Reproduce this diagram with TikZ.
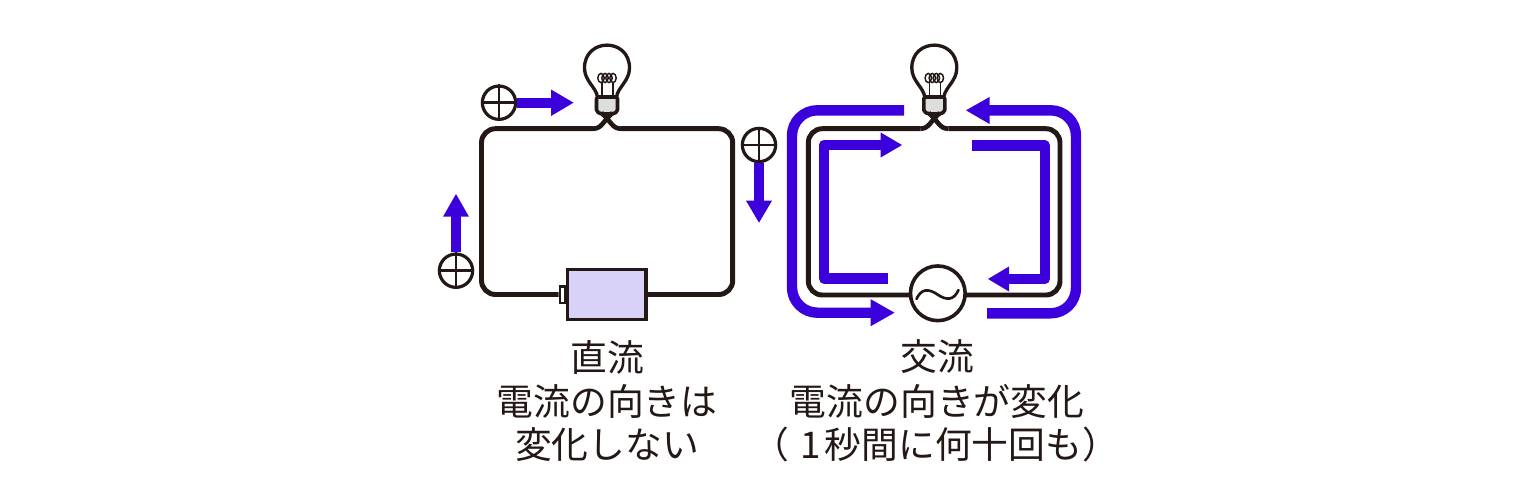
\documentclass[tikz,border=0pt]{standalone}
\usepackage{fontspec}
\setmainfont{Noto Sans CJK JP}
\usetikzlibrary{arrows.meta}
\definecolor{ink}{HTML}{231815}
\definecolor{flow}{HTML}{3C00DC}
\definecolor{cell}{HTML}{D9D2F8}
\definecolor{basegrey}{HTML}{DCDDDD}
\tikzset{
  wire/.style={draw=ink,line width=3.7pt,line cap=butt,rounded corners=10.5pt},
  wirecurve/.style={draw=ink,line width=3.5pt,line cap=butt},
  flowline/.style={draw=flow,line width=7.8pt,line join=round},
  flowhead/.style={fill=flow,draw=none},
  bigbend/.style={rounded corners=19pt},
  charge/.style={circle,draw=ink,line width=2.4pt,fill=white,minimum size=25pt,inner sep=0pt},
  captext/.style={text=ink,font=\fontsize{27.6pt}{33pt}\selectfont,anchor=center,inner sep=0pt},
  glass/.style={draw=ink,line width=2.5pt,line join=round},
  fil/.style={draw=ink,line width=1.1pt},
  x=0.75pt,y=-0.75pt
}
\newcommand{\lamp}[2]{%
  \begin{scope}[shift={(#1,#2)}]
    \draw[glass] (-9.5,52) .. controls (-11,42) and (-22.5,36) .. (-22.5,23)
      .. controls (-22.5,-7.5) and (22.5,-7.5) .. (22.5,23)
      .. controls (22.5,36) and (11,42) .. (9.5,52);
    \draw[fil] (-5,37) -- (-5,52) (6,37) -- (6,52);
    \foreach \cx in {-6,-2,2,6}{\draw[fil] (\cx,33) ellipse [x radius=3.2,y radius=4.6];}
    \draw[glass,fill=basegrey,line width=2.7pt,rounded corners=1.5pt] (-10.5,52) -- (10.5,52) -- (10.5,67) -- (5,69) -- (-5,69) -- (-10.5,67) -- cycle;
    \draw[wirecurve] (-14,83.7) .. controls (-5,83.7) and (-4,76) .. (5.5,68);
    \draw[wirecurve] (14,83.7) .. controls (5,83.7) and (4,76) .. (-5.5,68);
  \end{scope}}
\begin{document}
\begin{tikzpicture}
\useasboundingbox (0,0) rectangle (1536,500);
% left circuit
\coordinate (lb) at (593,128.7);
\coordinate (rb) at (621,128.7);
\node[draw=ink,line width=2.8pt,fill=cell,minimum width=59pt,minimum height=37.5pt,inner sep=0pt] (batt) at (606.8,294.5) {};
\node[draw=ink,line width=2pt,fill=white,minimum width=4pt,minimum height=12.5pt,inner sep=0pt] (nub) at (562.5,294.5) {};
\draw[wire] (lb) -- (481.5,128.7) -- (481.5,294.5) -- (nub.west);
\draw[wire] (rb) -- (732.7,128.7) -- (732.7,294.5) -- (batt.east);
\lamp{607}{45}
% left arrows
\node[charge] (p1) at (499,102.7) {};
\node[charge] (p2) at (759,145) {};
\node[charge] (p3) at (456,270.7) {};
\coordinate (a1) at (552,102.7);
\coordinate (a2) at (759,201.5);
\coordinate (a3) at (456,216);
\draw[flowline] (p1.east) -- (a1);
\draw[flowline] (p2.south) -- (a2);
\draw[flowline] (p3.north) -- (a3);
\fill[flowhead] (573.5,102.7) -- (551,89.5) -- (551,116) -- cycle;
\fill[flowhead] (759,222.7) -- (746,200.7) -- (772,200.7) -- cycle;
\fill[flowhead] (456,194) -- (443,216.7) -- (469,216.7) -- cycle;
\foreach \p in {p1,p2,p3}{
  \draw[draw=ink,line width=2pt] (\p.west) -- (\p.east) (\p.north) -- (\p.south);
}
% right circuit
\coordinate (lb2) at (920.3,128.7);
\coordinate (rb2) at (948.3,128.7);
\coordinate (acj) at (937.8,295);
\draw[wire] (lb2) -- (808.3,128.7) -- (808.3,295) -- (acj);
\draw[wire] (rb2) -- (1060,128.7) -- (1060,295) -- (acj);
\lamp{934.3}{45}
\node[circle,draw=ink,line width=2.7pt,fill=white,minimum size=41pt,inner sep=0pt] (ac) at (937.8,293.3) {};
\draw[draw=ink,line width=2pt,line cap=round] (916.5,299) .. controls (921,289) and (928,288) .. (937.5,294.5) .. controls (947,301) and (954,300) .. (958.5,290);
% outer flows
\coordinate (o1a) at (904,110.3);
\coordinate (o1b) at (792,110.3);
\coordinate (o1c) at (792,312.7);
\coordinate (o1d) at (872,312.7);
\draw[flowline,bigbend] (o1a) -- (o1b) -- (o1c) -- (o1d);
\fill[flowhead] (894.5,312.7) -- (870.7,299.2) -- (870.7,326.2) -- cycle;
\coordinate (o2a) at (987,313.3);
\coordinate (o2b) at (1076,313.3);
\coordinate (o2c) at (1076,110.3);
\coordinate (o2d) at (988,110.3);
\draw[flowline,bigbend] (o2a) -- (o2b) -- (o2c) -- (o2d);
\fill[flowhead] (966,110.3) -- (989.5,97) -- (989.5,124) -- cycle;
% inner flows
\coordinate (i1a) at (887.7,278.3);
\coordinate (i1b) at (824,278.3);
\coordinate (i1c) at (824,145);
\coordinate (i1d) at (882,145);
\draw[flowline] (i1a) -- (i1b) -- (i1c) -- (i1d);
\fill[flowhead] (902,145) -- (880.7,132.5) -- (880.7,157.5) -- cycle;
\coordinate (i2a) at (972,145.3);
\coordinate (i2b) at (1044.7,145.3);
\coordinate (i2c) at (1044.7,279);
\coordinate (i2d) at (1008,279);
\draw[flowline] (i2a) -- (i2b) -- (i2c) -- (i2d);
\fill[flowhead] (988,279) -- (1009,266.5) -- (1009,291.5) -- cycle;
% captions
\node[captext] (t1) at (607,357) {直流};
\node[captext] (t2) at (607,401) {電流の向きは};
\node[captext] (t3) at (607,445) {変化しない};
\node[captext] (t4) at (937,357) {交流};
\node[captext] (t5) at (937,401) {電流の向きが変化};
\node[captext] (t6) at (936,445) {（\kern8.5pt 1\kern2.5pt 秒間に何十回も）};
\end{tikzpicture}
\end{document}
